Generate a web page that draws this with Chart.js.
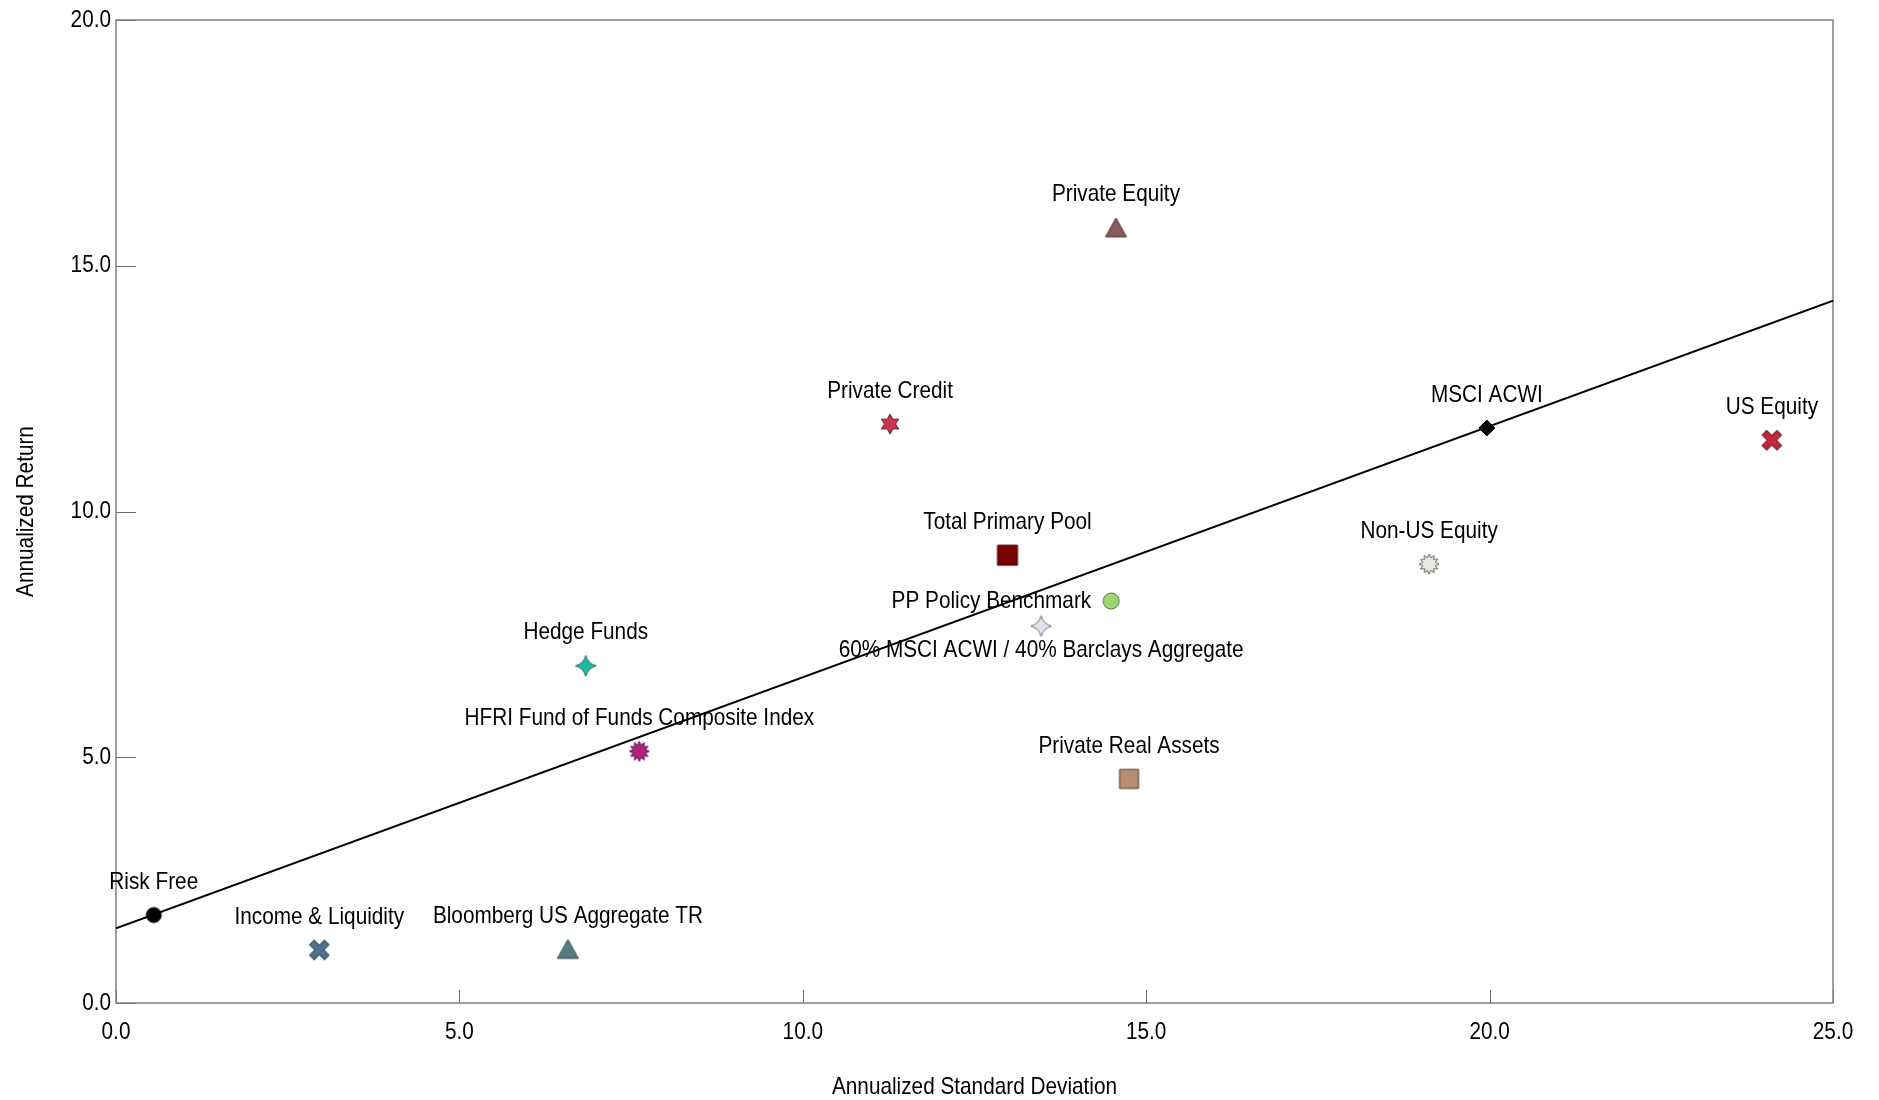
<!DOCTYPE html>
<html>
<head>
<meta charset="utf-8">
<script src="https://cdn.jsdelivr.net/npm/chart.js@4.4.1/dist/chart.umd.min.js"></script>
<style>
  html, body { margin: 0; padding: 0; background: #fff; }
</style>
</head>
<body>
<canvas id="chart" width="1879" height="1100"></canvas>
<script>
// data
const names = ['Risk Free', 'Income & Liquidity', 'Bloomberg US Aggregate TR',
  'HFRI Fund of Funds Composite Index', 'Hedge Funds', 'Private Credit', 'Private Equity',
  'Total Primary Pool', 'PP Policy Benchmark', '60% MSCI ACWI / 40% Barclays Aggregate',
  'Private Real Assets', 'MSCI ACWI', 'Non-US Equity', 'US Equity']
const stdDev = [0.55, 2.96, 6.58, 7.62, 6.84, 11.27, 14.56, 12.98, 14.49, 13.47, 14.75, 19.96, 19.12, 24.11]
const annReturn = [1.79, 1.08, 1.10, 5.12, 6.86, 11.78, 15.78, 9.11, 8.18, 7.67, 4.56, 11.70, 8.93, 11.45]

// capital market line end points
const lineX = [0, 25]
const lineY = [1.52, 14.29]

const xTitle = 'Annualized Standard Deviation'
const yTitle = 'Annualized Return'

// marker styles, same order as names
const markers = [
  ['circle', 15, '#000000', '#000000'],
  ['x', 19, '#4d7394', '#2f4a60'],
  ['triangle', 21, '#4f7d80', '#2e4d50'],
  ['burst', 20, '#b3237f', '#5a1040'],
  ['star4', 21, '#25b5a0', '#176f62'],
  ['star6', 20, '#cc3550', '#5e1a26'],
  ['triangle', 21, '#8a5c58', '#4a302e'],
  ['square', 20, '#7a0000', '#3c0000'],
  ['circle', 16, '#9ad672', '#4f7a38'],
  ['star4', 21, '#dfe4ea', '#6e7680'],
  ['square', 19, '#b98e70', '#4b3a2e'],
  ['diamond', 16, '#000000', '#000000'],
  ['burst', 20, '#ede9e5', '#6a6a6a'],
  ['x', 19, '#c4283f', '#6a1522']
]
const labelPos = ['above', 'above', 'above', 'above', 'above', 'above', 'above',
  'above', 'left', 'below', 'above', 'above', 'above', 'above']

const FONT = "'Liberation Sans', Arial, sans-serif"
const NARROW = 0.865 // squeeze Arial-metric text to look like Arial Narrow

function makeMarker(kind, size, fill, stroke) {
  const pad = 4
  const c = document.createElement('canvas')
  c.width = size + pad * 2
  c.height = size + pad * 2
  const ctx = c.getContext('2d')
  ctx.translate(c.width / 2, c.height / 2)
  const r = size / 2
  ctx.beginPath()
  if (kind === 'circle') {
    ctx.arc(0, 0, r, 0, Math.PI * 2)
  } else if (kind === 'square') {
    ctx.rect(-r, -r, size, size)
  } else if (kind === 'triangle') {
    const h = size * 0.9
    ctx.moveTo(0, -h / 2)
    ctx.lineTo(r, h / 2)
    ctx.lineTo(-r, h / 2)
    ctx.closePath()
  } else if (kind === 'diamond') {
    ctx.moveTo(0, -r); ctx.lineTo(r, 0); ctx.lineTo(0, r); ctx.lineTo(-r, 0)
    ctx.closePath()
  } else if (kind === 'x') {
    const t = size * 0.17
    const e = r / Math.SQRT1_2 - t * 0.9
    const pts = [[-t, -e], [t, -e], [t, -t], [e, -t], [e, t], [t, t], [t, e], [-t, e], [-t, t], [-e, t], [-e, -t], [-t, -t]]
    ctx.rotate(Math.PI / 4)
    pts.forEach((p, i) => i ? ctx.lineTo(p[0], p[1]) : ctx.moveTo(p[0], p[1]))
    ctx.closePath()
  } else if (kind === 'star4') {
    const k = r * 0.2
    ctx.moveTo(0, -r)
    ctx.quadraticCurveTo(k, -k, r, 0)
    ctx.quadraticCurveTo(k, k, 0, r)
    ctx.quadraticCurveTo(-k, k, -r, 0)
    ctx.quadraticCurveTo(-k, -k, 0, -r)
    ctx.closePath()
  } else if (kind === 'star6' || kind === 'burst') {
    const n = kind === 'star6' ? 6 : 12
    const inner = kind === 'star6' ? r * 0.55 : r * 0.64
    for (let i = 0; i < n * 2; i++) {
      const a = -Math.PI / 2 + i * Math.PI / n
      const rr = i % 2 ? inner : r
      const px = Math.cos(a) * rr, py = Math.sin(a) * rr
      i ? ctx.lineTo(px, py) : ctx.moveTo(px, py)
    }
    ctx.closePath()
  }
  ctx.fillStyle = fill
  ctx.fill()
  ctx.lineWidth = 1
  ctx.strokeStyle = stroke
  ctx.stroke()
  return c
}

const pointImages = markers.map(m => makeMarker(m[0], m[1], m[2], m[3]))

function narrowText(ctx, text, x, y, align, rot) {
  ctx.save()
  ctx.translate(x, y)
  if (rot) ctx.rotate(rot)
  ctx.scale(NARROW, 1)
  ctx.textAlign = align
  ctx.textBaseline = 'middle'
  ctx.fillText(text, 0, 0)
  ctx.restore()
}

// frame, inward tick marks, tick labels, axis titles and point labels
const decorations = {
  id: 'decorations',
  beforeDatasetsDraw(chart) {
    const { ctx, chartArea: a, scales } = chart
    ctx.save()
    ctx.strokeStyle = '#6b6b6b'
    ctx.lineWidth = 1
    scales.y.ticks.forEach(t => {
      const y = Math.round(scales.y.getPixelForValue(t.value)) + 0.5
      ctx.beginPath(); ctx.moveTo(a.left, y); ctx.lineTo(a.left + 20, y); ctx.stroke()
    })
    scales.x.ticks.forEach(t => {
      const x = Math.round(scales.x.getPixelForValue(t.value)) + 0.5
      ctx.beginPath(); ctx.moveTo(x, a.bottom); ctx.lineTo(x, a.bottom - 13); ctx.stroke()
    })
    ctx.strokeStyle = '#808080'
    ctx.lineWidth = 1.5
    ctx.strokeRect(a.left, a.top, a.right - a.left, a.bottom - a.top)

    ctx.fillStyle = '#000'
    ctx.font = '24px ' + FONT
    scales.y.ticks.forEach(t => {
      narrowText(ctx, t.value.toFixed(1), a.left - 5, scales.y.getPixelForValue(t.value), 'right')
    })
    scales.x.ticks.forEach(t => {
      narrowText(ctx, t.value.toFixed(1), scales.x.getPixelForValue(t.value), a.bottom + 29, 'center')
    })
    narrowText(ctx, xTitle, (a.left + a.right) / 2, 1087, 'center')
    narrowText(ctx, yTitle, 26, (a.top + a.bottom) / 2, 'center', -Math.PI / 2)
    ctx.restore()
  },
  afterDatasetsDraw(chart) {
    const { ctx } = chart
    const pts = chart.getDatasetMeta(0).data
    ctx.save()
    ctx.font = '24px ' + FONT
    ctx.fillStyle = '#000'
    pts.forEach((p, i) => {
      const pos = labelPos[i]
      if (pos === 'left') narrowText(ctx, names[i], p.x - 20, p.y, 'right')
      else if (pos === 'below') narrowText(ctx, names[i], p.x, p.y + 24, 'center')
      else narrowText(ctx, names[i], p.x, p.y - 33, 'center')
    })
    ctx.restore()
  }
}

new Chart(document.getElementById('chart'), {
  type: 'scatter',
  data: {
    datasets: [{
      label: 'Assets',
      data: stdDev.map((x, i) => ({ x: x, y: annReturn[i] })),
      pointStyle: pointImages,
      pointRadius: 10,
      order: 1
    }, {
      type: 'line',
      label: 'Capital Market Line',
      data: lineX.map((x, i) => ({ x: x, y: lineY[i] })),
      borderColor: '#000',
      borderWidth: 2,
      pointRadius: 0,
      fill: false,
      order: 2
    }]
  },
  options: {
    responsive: false,
    animation: false,
    layout: { padding: { top: 20, right: 46, left: 0, bottom: 0 } },
    plugins: {
      legend: { display: false },
      tooltip: { enabled: false }
    },
    scales: {
      x: {
        type: 'linear',
        min: 0,
        max: 25,
        afterFit: s => { s.height = 97 },
        grid: { display: false, drawTicks: false },
        border: { display: false },
        ticks: { stepSize: 5, display: false }
      },
      y: {
        type: 'linear',
        min: 0,
        max: 20,
        afterFit: s => { s.width = 116 },
        grid: { display: false, drawTicks: false },
        border: { display: false },
        ticks: { stepSize: 5, display: false }
      }
    }
  },
  plugins: [decorations]
})
</script>
</body>
</html>
